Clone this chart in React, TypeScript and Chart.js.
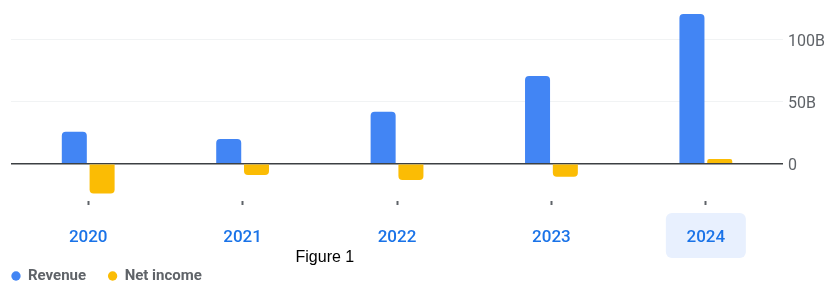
import React, { useEffect, useRef } from 'react';
import { Chart, registerables } from 'chart.js';

Chart.register(...registerables);

// Fiscal years and results in billions
const years = ['2020', '2021', '2022', '2023', '2024'];
const revenue = [26, 20, 42, 71, 121];
const netIncome = [-24, -9, -13, -10.5, 4];
const yTickValues = [0, 50, 100];
const highlightedYear = '2024';

const W = 833;
const H = 298;
const PLOT_BOTTOM = 201;

// Soft rounded box behind the selected year label
const yearHighlight = {
  id: 'yearHighlight',
  beforeDraw(chart: any) {
    const x = chart.scales.x;
    const idx = years.indexOf(highlightedYear);
    if (idx < 0) return;
    const cx = x.getPixelForValue(idx);
    const top = chart.chartArea.bottom + 12;
    const ctx = chart.ctx;
    ctx.save();
    ctx.fillStyle = '#e8f0fe';
    ctx.beginPath();
    ctx.roundRect(cx - 40, top, 80, 45, 6);
    ctx.fill();
    ctx.restore();
  },
};

// Pin the legend row to the lower-left corner
const legendPlacement = {
  id: 'legendPlacement',
  afterLayout(chart: any) {
    const lg = chart.legend;
    if (!lg) return;
    const pad = lg.options.labels.padding;
    const dx = 11.5 - pad - lg.left;
    lg.left += dx;
    lg.right += dx;
    const dy = 268.5 - pad - lg.top;
    lg.top += dy;
    lg.bottom += dy;
  },
};

export default function App() {
  const ref = useRef<HTMLCanvasElement | null>(null);

  useEffect(() => {
    document.body.style.margin = '0';
    const canvas = ref.current;
    if (!canvas) return;
    const chart = new Chart(canvas, {
      type: 'bar',
      data: {
        labels: years,
        datasets: [
          {
            label: 'Revenue',
            data: revenue,
            backgroundColor: '#4285f4',
            borderRadius: 4,
            borderSkipped: 'start',
          },
          {
            label: 'Net income',
            data: netIncome,
            backgroundColor: '#fbbc04',
            borderRadius: 4,
            borderSkipped: 'start',
          },
        ],
      },
      options: {
        responsive: false,
        animation: false,
        devicePixelRatio: 1,
        layout: { padding: { left: 11, right: 3, top: 9, bottom: 0 } },
        datasets: {
          bar: { categoryPercentage: 0.36, barPercentage: 0.9 },
        },
        plugins: {
          tooltip: { enabled: false },
          title: { display: false },
          legend: {
            position: 'bottom',
            align: 'start',
            labels: {
              usePointStyle: true,
              pointStyle: 'circle',
              boxWidth: 9,
              boxHeight: 6.6,
              padding: 22,
              color: '#5f6368',
              font: { family: 'Roboto', size: 15, weight: 'bold' },
            },
          },
        },
        scales: {
          x: {
            grid: {
              offset: false,
              drawOnChartArea: false,
              drawTicks: true,
              tickLength: 4,
              tickWidth: 2,
              tickColor: '#5f6368',
            },
            border: { display: false },
            ticks: {
              padding: 23,
              color: '#1a73e8',
              font: { family: 'Roboto', size: 17, weight: '500' },
              maxRotation: 0,
            },
            afterFit(scale: any) {
              const lg = scale.chart.legend;
              const lh = lg ? lg.height : 0;
              scale.height = H - PLOT_BOTTOM - lh;
            },
          },
          y: {
            position: 'right',
            min: -30,
            max: 125,
            grid: {
              drawTicks: false,
              color: (c: any) => (c.tick && c.tick.value === 0 ? '#3c4043' : '#f1f3f4'),
              lineWidth: (c: any) => (c.tick && c.tick.value === 0 ? 1.5 : 1),
            },
            border: { display: false },
            afterBuildTicks(scale: any) {
              scale.ticks = yTickValues.map((v) => ({ value: v }));
            },
            afterFit(scale: any) {
              // tick labels sit well inside the range, so no edge padding is needed
              scale.paddingTop = 0;
              scale.paddingBottom = 0;
            },
            ticks: {
              padding: 5,
              labelOffset: 2,
              color: '#5f6368',
              font: { family: 'Roboto', size: 16 },
              callback: (v: any) => (v === 0 ? '0' : `${v}B`),
            },
          },
        },
      },
      plugins: [yearHighlight, legendPlacement],
    });
    return () => chart.destroy();
  }, []);

  return (
    <div style={{ position: 'relative', width: W, height: H }}>
      <canvas ref={ref} width={W} height={H} style={{ width: W, height: H, display: 'block' }} />
      <div
        style={{
          position: 'absolute',
          left: 295.5,
          top: 249,
          fontFamily: '"Liberation Sans", Arial, sans-serif',
          fontSize: 16,
          lineHeight: '16px',
          color: '#000',
          whiteSpace: 'nowrap',
        }}
      >
        Figure 1
      </div>
    </div>
  );
}
